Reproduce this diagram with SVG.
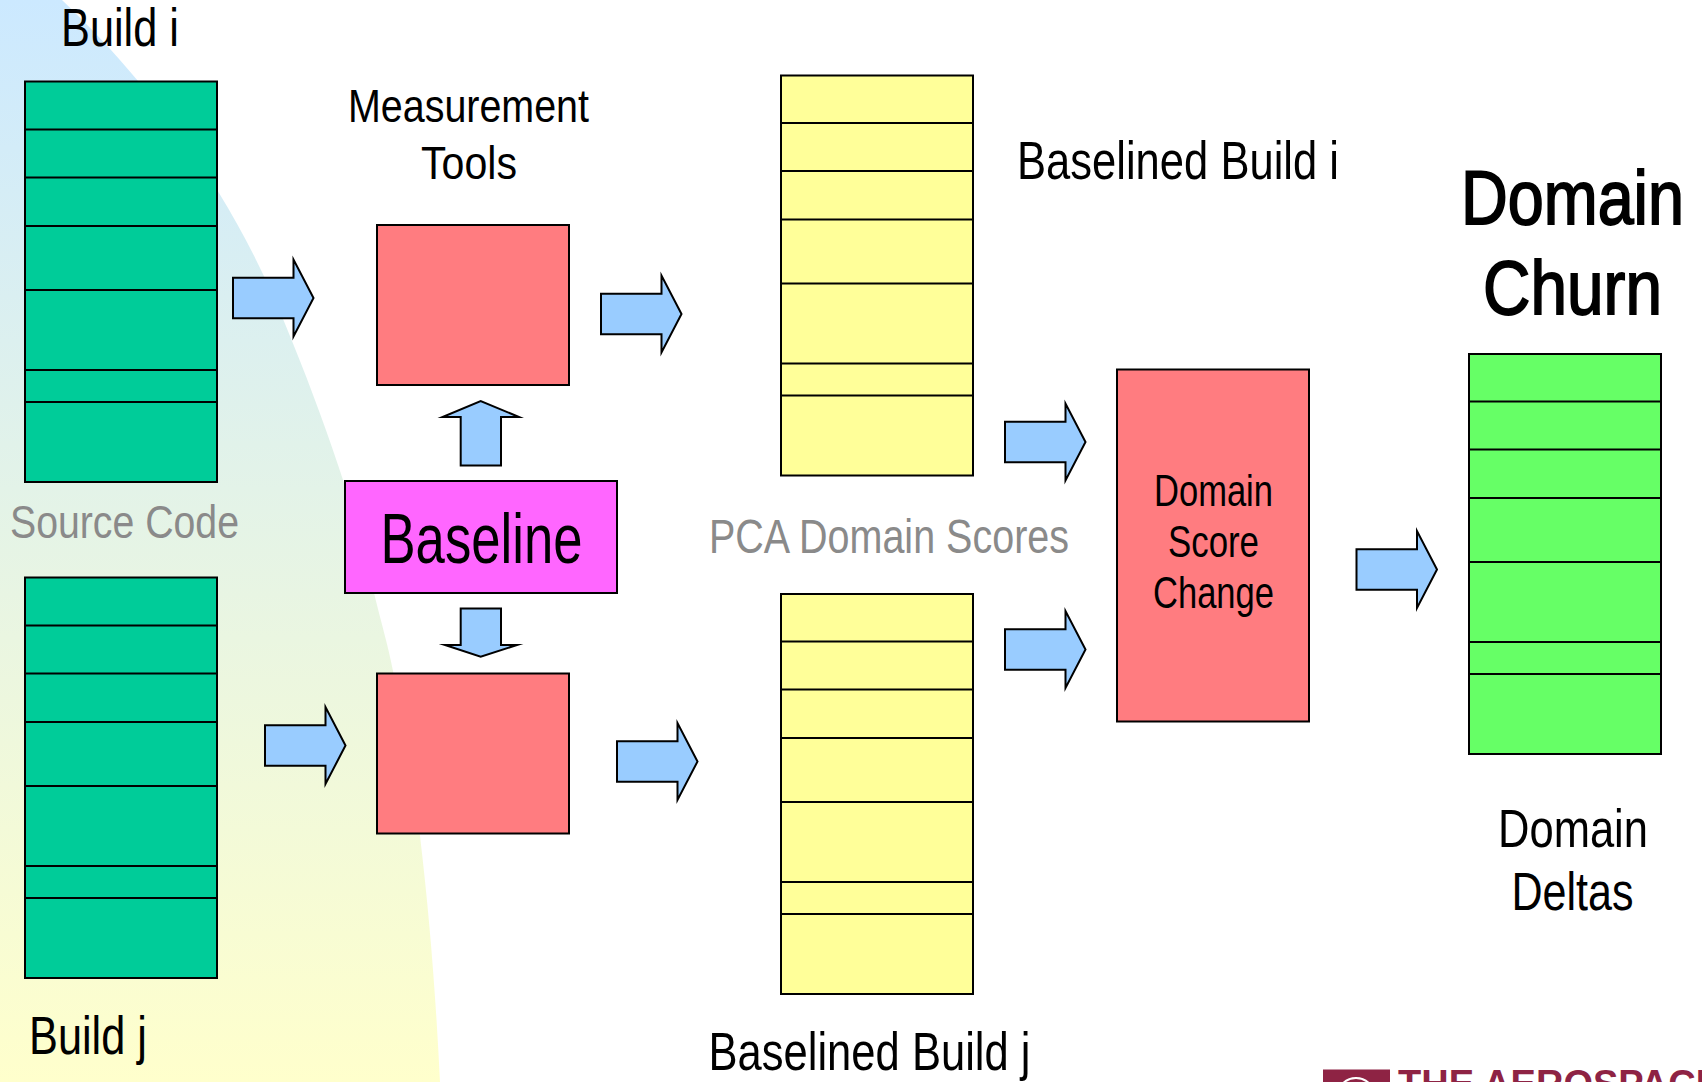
<svg xmlns="http://www.w3.org/2000/svg" width="1702" height="1082" viewBox="0 0 1702 1082">
<style>
.box{stroke:#000;stroke-width:2}
.div{stroke:#000;stroke-width:2;fill:none}
.src{fill:#00cc99}.yel{fill:#ffff99}.grn{fill:#66ff66}.red{fill:#ff7c80}.mag{fill:#ff66ff}
.arrow{fill:#99ccff;stroke:#000;stroke-width:2;stroke-miterlimit:12}
text{font-family:"Liberation Sans",Arial,sans-serif;fill:#000}
.gray{fill:#8a8a8a}
.heavy{stroke:#000;stroke-width:1.800}
.logo{fill:#8e2344;font-weight:bold}
</style>
<defs>
<linearGradient id="bg" x1="0" y1="0" x2="0" y2="1">
<stop offset="0" stop-color="#cce9ff"/><stop offset="1" stop-color="#ffffcc"/>
</linearGradient>
<path id="rarrow" class="arrow" d="M0-20.300H60.500V-38.500L80.500 0 60.500 38.500V20.300H0Z"/>
<g id="stackLines">
<path class="div" d="M0 48H192M0 96H192M0 144.500H192M0 208.500H192M0 288.500H192M0 320.500H192"/>
</g>
</defs>
<path id="background" fill="url(#bg)" d="M0 0H62C90 27 112 50 138 81C167 118 195 155 219 193C248 240 272 290 292 341C312 390 330 440 344 483C356 520 367 560 375 597C381 622 388 645 393 671C403 725 413 780 420 836C430 920 436 1000 440 1082H0Z"/>

<g id="build-i">
<rect class="box src" x="25" y="81.500" width="192" height="400.500"/>
<use href="#stackLines" x="25" y="81.500"/>
<text x="61" y="45.500" font-size="53" textLength="118" lengthAdjust="spacingAndGlyphs">Build i</text>
<text class="gray" x="10" y="537.500" font-size="47" textLength="229" lengthAdjust="spacingAndGlyphs">Source Code</text>
</g>
<g id="build-j">
<rect class="box src" x="25" y="577.500" width="192" height="400.500"/>
<use href="#stackLines" x="25" y="577.500"/>
<text x="29" y="1054" font-size="53" textLength="118" lengthAdjust="spacingAndGlyphs">Build j</text>
</g>
<g id="tool-i">
<rect class="box red" x="377" y="225" width="192" height="160"/>
<text x="348" y="122" font-size="47" textLength="241" lengthAdjust="spacingAndGlyphs">Measurement</text>
<text x="421" y="179" font-size="47" textLength="96" lengthAdjust="spacingAndGlyphs">Tools</text>
</g>
<g id="tool-j">
<rect class="box red" x="377" y="673.500" width="192" height="160"/>
</g>
<g id="baseline">
<rect class="box mag" x="345" y="481" width="272" height="112"/>
<text x="380.500" y="563" font-size="70" textLength="202" lengthAdjust="spacingAndGlyphs">Baseline</text>
</g>
<g id="pca-i">
<rect class="box yel" x="781" y="75.500" width="192" height="400"/>
<use href="#stackLines" x="781" y="75"/>
<text x="1017" y="178.500" font-size="53" textLength="322" lengthAdjust="spacingAndGlyphs">Baselined Build i</text>
<text class="gray" x="709" y="553" font-size="49" textLength="360" lengthAdjust="spacingAndGlyphs">PCA Domain Scores</text>
</g>
<g id="pca-j">
<rect class="box yel" x="781" y="594" width="192" height="400"/>
<use href="#stackLines" x="781" y="593.500"/>
<text x="708.500" y="1070" font-size="53" textLength="322" lengthAdjust="spacingAndGlyphs">Baselined Build j</text>
</g>
<g id="score-change">
<rect class="box red" x="1117" y="369.500" width="192" height="352"/>
<text x="1154" y="505.500" font-size="44" textLength="119" lengthAdjust="spacingAndGlyphs">Domain</text>
<text x="1168" y="556.500" font-size="44" textLength="91" lengthAdjust="spacingAndGlyphs">Score</text>
<text x="1153" y="608" font-size="44" textLength="121" lengthAdjust="spacingAndGlyphs">Change</text>
</g>
<g id="domain-deltas">
<rect class="box grn" x="1469" y="354" width="192" height="400"/>
<use href="#stackLines" x="1469" y="353.500"/>
<text class="heavy" x="1461" y="224" font-size="76" textLength="223" lengthAdjust="spacingAndGlyphs">Domain</text>
<text class="heavy" x="1483" y="314" font-size="76" textLength="179" lengthAdjust="spacingAndGlyphs">Churn</text>
<text x="1498" y="846.500" font-size="53" textLength="150" lengthAdjust="spacingAndGlyphs">Domain</text>
<text x="1511.500" y="909.500" font-size="53" textLength="122" lengthAdjust="spacingAndGlyphs">Deltas</text>
</g>

<g id="connectors">
<use href="#rarrow" x="233" y="298"/>
<use href="#rarrow" x="601" y="314"/>
<use href="#rarrow" x="265" y="745.500"/>
<use href="#rarrow" x="617" y="761.500"/>
<use href="#rarrow" x="1005" y="442"/>
<use href="#rarrow" x="1005" y="649.500"/>
<use href="#rarrow" x="1356.500" y="569.500"/>
<path class="arrow" d="M460.700 465.500V417H442.500L480.700 401 519 417H501V465.500Z"/>
<path class="arrow" d="M460.700 608.600V645H445L480.700 656.600 517 645H501V608.600Z"/>
</g>

<g id="logo">
<rect x="1323" y="1069.500" width="67" height="13" fill="#8e2344"/>
<ellipse cx="1356" cy="1095" rx="18" ry="17" fill="none" stroke="#fff" stroke-width="2"/>
<text class="logo" x="1398" y="1097" font-size="38">THE AEROSPACE</text>
</g>
</svg>
